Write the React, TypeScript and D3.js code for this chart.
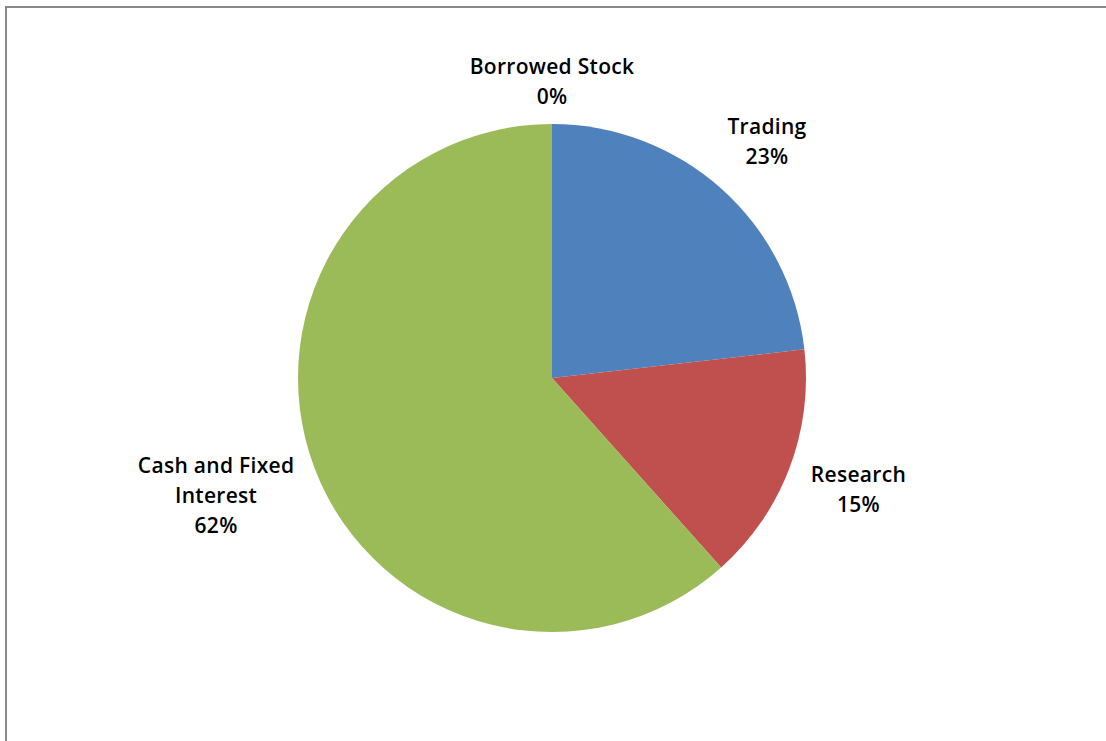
import React from "react";
import * as d3 from "d3";

const categories = ["Trading", "Research", "Cash and Fixed Interest", "Borrowed Stock"];
const values = [23.2, 15.2, 61.6, 0];
const labelLines = [["Trading"], ["Research"], ["Cash and Fixed", "Interest"], ["Borrowed Stock"]];
const colors = ["#4F81BD", "#C0504D", "#9BBB59", "#8064A2"];

const W = 1106;
const H = 741;
const cx = 552;
const cy = 378;
const R = 254;
const FS = 21;
const LH = 30;

export default function App() {
  const total = d3.sum(values);
  const pie = d3.pie<number>().sort(null).value((d) => d);
  const arcs = pie(values);
  const arc = d3.arc<d3.PieArcDatum<number>>().innerRadius(0).outerRadius(R);

  return (
    <svg
      width={W}
      height={H}
      style={{ position: "absolute", left: 0, top: 0, background: "#fff" }}
      fontFamily="'Open Sans', Lato, sans-serif"
    >
      <rect x={6} y={7} width={W + 10} height={H + 10} fill="#fff" stroke="#898989" strokeWidth={2} />
      <g transform={`translate(${cx},${cy})`}>
        {arcs.map((a, i) =>
          a.value > 0 ? <path key={i} d={arc(a) || ""} fill={colors[i]} /> : null
        )}
      </g>
      {arcs.map((a, i) => {
        const lines = [...labelLines[i], `${Math.round((a.value / total) * 100)}%`];
        const mid = a.value > 0 ? (a.startAngle + a.endAngle) / 2 : a.startAngle;
        const w = d3.max(lines, (l) => l.length * FS * 0.5) || 0;
        const h = lines.length * LH;
        const gap = a.value > 0 ? 32 : 12;
        const s = Math.sin(mid);
        const c = Math.cos(mid);
        const x = cx + s * (R + gap + w / 2);
        const y = cy - c * (R + gap + h / 2);
        const top = y - h / 2;
        return (
          <text key={i} textAnchor="middle" fontSize={FS} fontWeight={600} fill="#000" letterSpacing={0.3}>
            {lines.map((l, j) => (
              <tspan key={j} x={x} y={top + LH * j + LH * 0.72}>
                {l}
              </tspan>
            ))}
          </text>
        );
      })}
    </svg>
  );
}
